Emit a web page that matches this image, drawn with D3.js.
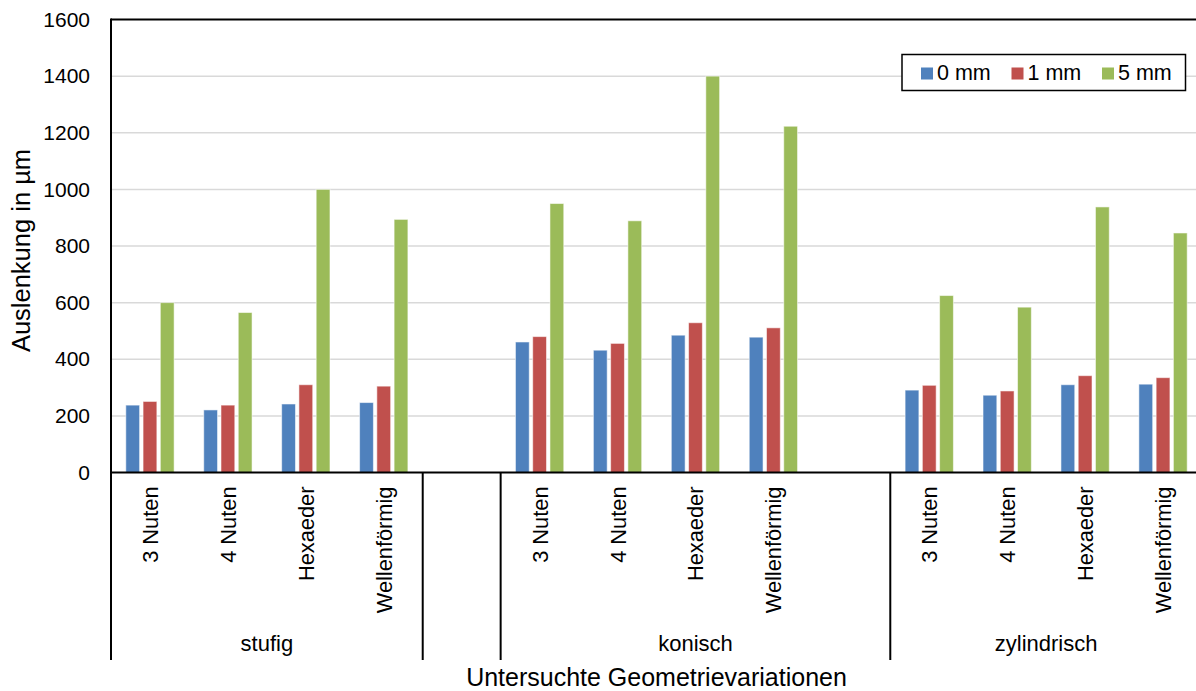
<!DOCTYPE html>
<html>
<head>
<meta charset="utf-8">
<script src="https://cdn.jsdelivr.net/npm/d3@7/dist/d3.min.js"></script>
<style>
  html, body { margin: 0; padding: 0; background: #fff; }
  svg { display: block; font-family: "Liberation Sans", Arial, sans-serif; }
</style>
</head>
<body>
<svg id="chart" width="1196" height="691"></svg>
<script>
// Geometry variants per slot on the category axis (empty strings are spacer slots)
const categories = [
  "3 Nuten", "4 Nuten", "Hexaeder", "Wellenförmig",
  "",
  "3 Nuten", "4 Nuten", "Hexaeder", "Wellenförmig", "",
  "3 Nuten", "4 Nuten", "Hexaeder", "Wellenförmig"
];
// Outer grouping of the slots
const groupNames = ["stufig", "", "konisch", "zylindrisch"];
const groupIndex = [0, 0, 0, 0, 1, 2, 2, 2, 2, 2, 3, 3, 3, 3];

const seriesNames = ["0 mm", "1 mm", "5 mm"];
const seriesColors = ["#4F81BD", "#C0504D", "#9BBB59"];

// Deflection in µm
const values0mm = [238, 221, 242, 247, null, 461, 432, 485, 478, null, 291, 273, 310, 312];
const values1mm = [251, 238, 310, 305, null, 480, 456, 529, 511, null, 308, 288, 342, 335];
const values5mm = [600, 565, 1000, 894, null, 950, 889, 1400, 1223, null, 625, 584, 938, 846];
const seriesValues = [values0mm, values1mm, values5mm];

const yTicks = [0, 200, 400, 600, 800, 1000, 1200, 1400, 1600];

const svg = d3.select("#chart");
const plotLeft = 111, plotRight = 1202, plotTop = 19.5, plotBottom = 472.5;
const catBottom = 660;

const x = d3.scaleBand().domain(d3.range(categories.length)).range([plotLeft, plotRight]);
const xs = d3.scaleBand().domain(d3.range(seriesNames.length))
  .range([x.bandwidth() * 0.19, x.bandwidth() * 0.81]).paddingInner(0.2);
const y = d3.scaleLinear().domain([0, 1600]).range([plotBottom, plotTop]);

// Horizontal gridlines
svg.append("g").selectAll("line")
  .data(yTicks.filter(t => t > 0 && t < 1600))
  .join("line")
  .attr("x1", plotLeft).attr("x2", plotRight)
  .attr("y1", d => y(d)).attr("y2", d => y(d))
  .attr("stroke", "#d9d9d9").attr("stroke-width", 1.5);

// Bars
const bars = svg.append("g");
seriesValues.forEach((vals, si) => {
  bars.append("g").selectAll("rect")
    .data(vals.map((v, i) => ({ v, i })).filter(d => d.v !== null))
    .join("rect")
    .attr("x", d => x(d.i) + xs(si))
    .attr("width", xs.bandwidth())
    .attr("y", d => y(d.v))
    .attr("height", d => y(0) - y(d.v))
    .attr("fill", seriesColors[si])
    .attr("stroke", "rgba(255,255,255,0.55)")
    .attr("stroke-width", 1);
});

// Y axis
const yAxis = d3.axisLeft(y).tickValues(yTicks).tickFormat(d3.format("d"))
  .tickSize(0).tickPadding(21);
const yg = svg.append("g").attr("transform", `translate(${plotLeft},0)`).call(yAxis);
yg.select(".domain").remove();
yg.selectAll("text").attr("font-size", 21).attr("fill", "#000")
  .attr("font-family", "Liberation Sans, Arial, sans-serif");

// Plot frame: top edge, left axis line extended through category area, baseline
svg.append("line").attr("x1", plotLeft).attr("x2", plotRight).attr("y1", plotTop).attr("y2", plotTop)
  .attr("stroke", "#000").attr("stroke-width", 2);
svg.append("line").attr("x1", plotLeft).attr("x2", plotLeft).attr("y1", plotTop - 1).attr("y2", catBottom)
  .attr("stroke", "#000").attr("stroke-width", 2);
svg.append("line").attr("x1", plotLeft).attr("x2", plotRight).attr("y1", plotBottom).attr("y2", plotBottom)
  .attr("stroke", "#000").attr("stroke-width", 2);

// Category labels (rotated)
svg.append("g").selectAll("text")
  .data(categories.map((c, i) => ({ c, i })).filter(d => d.c !== ""))
  .join("text")
  .attr("transform", d => `translate(${x(d.i) + x.bandwidth() / 2 + 8},${plotBottom + 14}) rotate(-90)`)
  .attr("text-anchor", "end")
  .attr("font-size", 21.8)
  .text(d => d.c);

// Group separators and group labels
const groups = groupNames.map((name, gi) => {
  const idx = groupIndex.map((g, i) => g === gi ? i : -1).filter(i => i >= 0);
  return { name, x0: x(idx[0]), x1: x(idx[idx.length - 1]) + x.bandwidth() };
});
svg.append("g").selectAll("line")
  .data(groups)
  .join("line")
  .attr("x1", d => d.x1).attr("x2", d => d.x1)
  .attr("y1", plotBottom).attr("y2", catBottom)
  .attr("stroke", "#000").attr("stroke-width", 2);
svg.append("g").selectAll("text")
  .data(groups.filter(g => g.name !== ""))
  .join("text")
  .attr("x", d => (d.x0 + d.x1) / 2)
  .attr("y", 651)
  .attr("text-anchor", "middle")
  .attr("font-size", 22)
  .text(d => d.name);

// Axis titles
svg.append("text")
  .attr("x", (plotLeft + plotRight) / 2).attr("y", 686)
  .attr("text-anchor", "middle").attr("font-size", 25)
  .text("Untersuchte Geometrievariationen");
svg.append("text")
  .attr("transform", `translate(30,250.5) rotate(-90)`)
  .attr("text-anchor", "middle").attr("font-size", 25.5)
  .text("Auslenkung in µm");

// Legend
const legend = svg.append("g");
legend.append("rect").attr("x", 902).attr("y", 54.5).attr("width", 283.5).attr("height", 36)
  .attr("fill", "#fff").attr("stroke", "#000").attr("stroke-width", 1.5);
const legendX = [921, 1011.5, 1102];
seriesNames.forEach((name, i) => {
  legend.append("rect").attr("x", legendX[i]).attr("y", 67.5)
    .attr("width", 12).attr("height", 12).attr("fill", seriesColors[i]);
  legend.append("text").attr("x", legendX[i] + 16).attr("y", 79.5)
    .attr("font-size", 21.5).text(name);
});
</script>
</body>
</html>
